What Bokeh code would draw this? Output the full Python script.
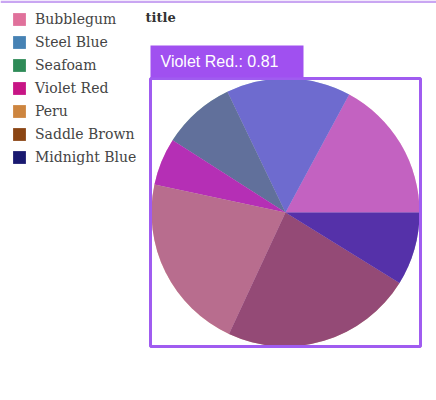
import math
from bokeh.plotting import figure
from bokeh.models import ColumnDataSource, Range1d, Legend, LegendItem, BoxAnnotation, Label
from bokeh.embed import file_html
from bokeh.resources import INLINE

# ---- data ----
names = ["Bubblegum", "Steel Blue", "Seafoam", "Violet Red", "Peru", "Saddle Brown", "Midnight Blue"]
values = [2.43, 2.13, 1.25, 0.81, 3.04, 3.28, 1.25]
colors = ["#e0719b", "#4682b4", "#2e8b57", "#c71585", "#cd853f", "#8b4513", "#191970"]
title_text = "title"
hover_index = 3

total = sum(values)
starts, ends = [], []
acc = 0.0
for v in values:
    starts.append(acc / total * 2 * math.pi)
    acc += v
    ends.append(acc / total * 2 * math.pi)

src = ColumnDataSource(dict(name=names, value=values, color=colors, start=starts, end=ends))

W, H = 436, 400
p = figure(width=W, height=H, output_backend="svg", toolbar_location=None,
           x_range=Range1d(0, W), y_range=Range1d(0, H),
           x_axis_location=None, y_axis_location=None,
           min_border=0, min_border_left=0, min_border_right=0,
           min_border_top=0, min_border_bottom=0)
p.outline_line_color = None
p.grid.visible = False
p.background_fill_color = "white"
p.border_fill_color = "white"

cx, cy, r = 285, H - 212, 134
pie = p.wedge(x=cx, y=cy, radius=r, start_angle="start", end_angle="end",
              fill_color="color", line_color=None, source=src)
# purple highlight overlay
p.wedge(x=cx, y=cy, radius=r, start_angle="start", end_angle="end",
        fill_color="#a050f0", fill_alpha=0.45, line_color=None, source=src)

items = [LegendItem(label=n, renderers=[pie], index=i) for i, n in enumerate(names)]
legend = Legend(items=items, location="top_left", margin=11, padding=0,
                glyph_width=16, glyph_height=16, label_height=16, spacing=7,
                label_standoff=8, label_text_font="DejaVu Serif",
                label_text_font_size="14px", label_text_color="#444444",
                border_line_alpha=0, background_fill_alpha=0)
p.add_layout(legend)

# top lavender strip
p.add_layout(BoxAnnotation(left=0, right=W, top=H, bottom=H - 2.5,
                           fill_color="#c9a6f2", fill_alpha=1, line_alpha=0))

# title
p.add_layout(Label(x=145, y=H - 17, text=title_text, text_font="DejaVu Serif",
                   text_font_style="bold", text_font_size="13px",
                   text_color="#333333", text_baseline="middle"))

# selection frame
p.add_layout(BoxAnnotation(left=150, right=420, top=H - 78, bottom=H - 346,
                           fill_alpha=0, line_color="#a05cf0", line_alpha=1, line_width=3))

# tooltip
p.add_layout(BoxAnnotation(left=150, right=303, top=H - 45, bottom=H - 77,
                           fill_color="#a050f0", fill_alpha=1, line_alpha=0))
p.add_layout(Label(x=160, y=H - 61, text=f"{names[hover_index]}.: {values[hover_index]}",
                   text_font="Liberation Sans", text_font_size="16px",
                   text_color="white", text_baseline="middle"))

open("out.html", "w").write(file_html(p, INLINE))
